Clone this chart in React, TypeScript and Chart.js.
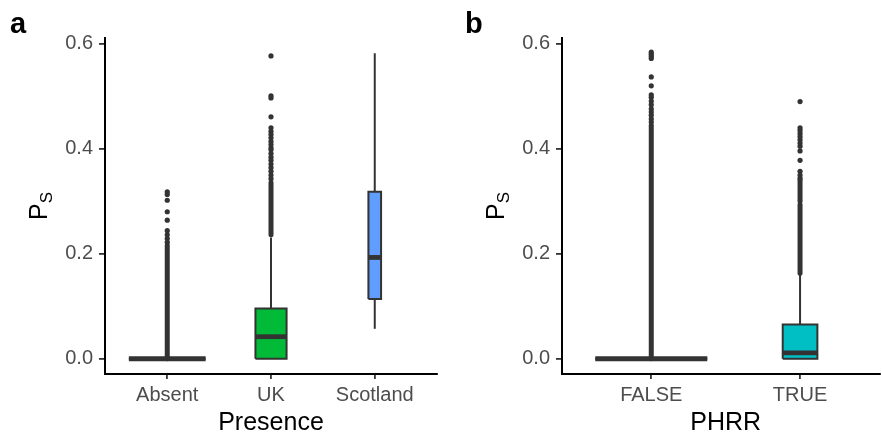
import React, { useEffect, useRef } from "react";
import { Chart, registerables } from "chart.js";
Chart.register(...registerables);

// ---------------- data ----------------
const presenceCategories = ["Absent", "UK", "Scotland"];
const presenceWhiskerLow = [0, 0, 0.057];
const presenceQ1 = [0, 0, 0.114];
const presenceMedian = [0, 0.042, 0.193];
const presenceQ3 = [0, 0.0955, 0.318];
const presenceWhiskerHigh = [0, 0.231, 0.582];
const presenceOutliers = [
  [0.318, 0.313, 0.302, 0.28, 0.264, 0.244, 0.236, 0.229, 0.222],
  [0.577, 0.501, 0.497, 0.461, 0.44, 0.433, 0.427, 0.421, 0.414, 0.408, 0.402, 0.398, 0.391, 0.384, 0.378, 0.371, 0.364, 0.357, 0.35, 0.343],
  [],
];
// overplotted outlier columns that read as continuous runs: [from, to]
const presenceOutlierRuns = [[[0, 0.216]], [[0.236, 0.336]], []];

const phrrCategories = ["FALSE", "TRUE"];
const phrrWhiskerLow = [0, 0];
const phrrQ1 = [0, 0];
const phrrMedian = [0, 0.011];
const phrrQ3 = [0, 0.065];
const phrrWhiskerHigh = [0, 0.16];
const phrrOutliers = [
  [0.584, 0.58, 0.576, 0.572, 0.537, 0.52, 0.503, 0.498, 0.491, 0.484, 0.476, 0.47, 0.464, 0.457, 0.451],
  [0.49, 0.44, 0.435, 0.429, 0.423, 0.417, 0.411, 0.405, 0.396, 0.378, 0.357, 0.35, 0.344],
];
const phrrOutlierRuns = [[[0, 0.445]], [[0.163, 0.294], [0.3, 0.34]]];

const yTicks = [0, 0.2, 0.4, 0.6];

// ---------------- styles ----------------
const FONT = "'Liberation Sans', Arial, Helvetica, sans-serif";
const DARK = "#333333";
const presenceBoxWidths = [0.74, 0.3, 0.122];
const presenceFills = ["#F8766D", "#00BA38", "#619CFF"];
const phrrBoxWidths = [0.753, 0.233];
const phrrFills = ["#F8766D", "#00BFC4"];

type BoxInput = {
  q1: number[]; med: number[]; q3: number[]; lo: number[]; hi: number[];
  outliers: number[][]; runs: number[][][]; widths: number[]; fills: string[];
};

function buildDatasets(b: BoxInput) {
  const ds: any[] = [];
  const seg = (pts: { x: number; y: number }[], extra: any) =>
    ds.push({
      data: pts,
      showLine: true,
      pointRadius: 0,
      pointHoverRadius: 0,
      fill: false,
      tension: 0,
      borderColor: DARK,
      borderWidth: 2,
      borderCapStyle: "butt",
      borderJoinStyle: "miter",
      ...extra,
    });
  b.q1.forEach((_, i) => {
    const c = i + 1;
    const h = b.widths[i] / 2;
    // outliers (dense runs and single points)
    b.runs[i].forEach((r) => seg([{ x: c, y: r[0] }, { x: c, y: r[1] }], { borderWidth: 5, borderCapStyle: "round" }));
    ds.push({
      data: b.outliers[i].map((y) => ({ x: c, y })),
      showLine: false,
      borderColor: "rgba(0,0,0,0)",
      pointRadius: 2.6,
      pointHoverRadius: 2.6,
      pointBackgroundColor: DARK,
      pointBorderWidth: 0,
      pointBorderColor: "rgba(0,0,0,0)",
      fill: false,
    });
    // whiskers
    seg([{ x: c, y: b.lo[i] }, { x: c, y: b.q1[i] }], {});
    seg([{ x: c, y: b.q3[i] }, { x: c, y: b.hi[i] }], {});
    // box fill
    seg([{ x: c - h, y: b.q3[i] }, { x: c + h, y: b.q3[i] }], {
      borderColor: "rgba(0,0,0,0)",
      borderWidth: 1,
      fill: { value: b.q1[i] },
      backgroundColor: b.fills[i],
    });
    // box outline
    seg(
      [
        { x: c - h, y: b.q1[i] },
        { x: c - h, y: b.q3[i] },
        { x: c + h, y: b.q3[i] },
        { x: c + h, y: b.q1[i] },
        { x: c - h, y: b.q1[i] },
      ],
      {}
    );
    // median
    seg([{ x: c - h, y: b.med[i] }, { x: c + h, y: b.med[i] }], { borderWidth: 4.8 });
  });
  const n = ds.length;
  ds.forEach((d, i) => (d.order = n - i));
  return ds;
}

function textPlugin(o: { letter: string; letterX: number; xTitle: string; xCenter: number }) {
  return {
    id: "texts",
    afterDraw(chart: any) {
      const ctx = chart.ctx;
      const area = chart.chartArea;
      const xs = chart.scales.x;
      ctx.save();
      ctx.fillStyle = "#000";
      ctx.textBaseline = "alphabetic";
      ctx.textAlign = "left";
      ctx.font = `bold 29px ${FONT}`;
      ctx.fillText(o.letter, o.letterX, 33);
      ctx.textAlign = "center";
      ctx.font = `25px ${FONT}`;
      ctx.fillText(o.xTitle, xs.getPixelForValue(o.xCenter), 430);
      ctx.translate(area.left - 58, (area.top + area.bottom) / 2);
      ctx.rotate(-Math.PI / 2);
      ctx.textAlign = "left";
      ctx.font = `25px ${FONT}`;
      const pW = ctx.measureText("P").width;
      ctx.font = `17px ${FONT}`;
      const sW = ctx.measureText("S").width;
      const start = -(pW + sW) / 2;
      ctx.font = `25px ${FONT}`;
      ctx.fillText("P", start, 0);
      ctx.font = `17px ${FONT}`;
      ctx.fillText("S", start + pW, 5);
      ctx.restore();
    },
  };
}

function makeConfig(p: {
  cats: string[]; b: BoxInput; xMax: number; yAxisWidth: number; padRight: number;
  letter: string; letterX: number; xTitle: string; xCenter: number;
}) {
  return {
    type: "line",
    data: { datasets: buildDatasets(p.b) },
    options: {
      animation: false,
      responsive: false,
      devicePixelRatio: 1,
      events: [],
      layout: { padding: { top: 38, right: p.padRight, left: 0, bottom: 0 } },
      plugins: { legend: { display: false }, tooltip: { enabled: false }, title: { display: false } },
      scales: {
        x: {
          type: "linear",
          min: 0.4,
          max: p.xMax,
          afterBuildTicks: (s: any) => {
            s.ticks = p.cats.map((_, i) => ({ value: i + 1 }));
          },
          afterFit: (s: any) => {
            s.height = 60;
          },
          ticks: {
            autoSkip: false,
            maxRotation: 0,
            padding: 4,
            color: "#4d4d4d",
            font: { family: FONT, size: 20 },
            callback: (v: any) => p.cats[Math.round(Number(v)) - 1],
          },
          grid: { drawOnChartArea: false, drawTicks: true, tickLength: 5, color: DARK, lineWidth: 1.8 },
          border: { display: true, color: "#000", width: 2 },
        },
        y: {
          type: "linear",
          min: -0.0291,
          max: 0.6111,
          afterBuildTicks: (s: any) => {
            s.ticks = yTicks.map((v) => ({ value: v }));
          },
          afterFit: (s: any) => {
            s.width = p.yAxisWidth;
          },
          ticks: {
            padding: 6,
            color: "#4d4d4d",
            font: { family: FONT, size: 20 },
            callback: (v: any) => Number(v).toFixed(1),
          },
          grid: { drawOnChartArea: false, drawTicks: true, tickLength: 6, color: DARK, lineWidth: 1.8 },
          border: { display: true, color: "#000", width: 2 },
        },
      },
    },
    plugins: [textPlugin({ letter: p.letter, letterX: p.letterX, xTitle: p.xTitle, xCenter: p.xCenter })],
  };
}

function Panel(props: { left: number; config: any }) {
  const ref = useRef<HTMLCanvasElement | null>(null);
  useEffect(() => {
    if (!ref.current) return;
    const chart = new Chart(ref.current, props.config);
    return () => chart.destroy();
  }, []);
  return (
    <canvas
      ref={ref}
      width={441}
      height={434}
      style={{ position: "absolute", left: props.left, top: 0, width: 441, height: 434 }}
    />
  );
}

export default function App() {
  const configA = makeConfig({
    cats: presenceCategories,
    b: {
      q1: presenceQ1, med: presenceMedian, q3: presenceQ3, lo: presenceWhiskerLow, hi: presenceWhiskerHigh,
      outliers: presenceOutliers, runs: presenceOutlierRuns, widths: presenceBoxWidths, fills: presenceFills,
    },
    xMax: 3.6,
    yAxisWidth: 105,
    padRight: 4,
    letter: "a",
    letterX: 10,
    xTitle: "Presence",
    xCenter: 2,
  });
  const configB = makeConfig({
    cats: phrrCategories,
    b: {
      q1: phrrQ1, med: phrrMedian, q3: phrrQ3, lo: phrrWhiskerLow, hi: phrrWhiskerHigh,
      outliers: phrrOutliers, runs: phrrOutlierRuns, widths: phrrBoxWidths, fills: phrrFills,
    },
    xMax: 0.4 + 320 / 150,
    yAxisWidth: 121,
    padRight: 0,
    letter: "b",
    letterX: 24,
    xTitle: "PHRR",
    xCenter: 1.5,
  });
  return (
    <div style={{ position: "absolute", left: 0, top: 0, width: 882, height: 434, background: "#fff", overflow: "hidden" }}>
      <Panel left={0} config={configA} />
      <Panel left={441} config={configB} />
    </div>
  );
}
